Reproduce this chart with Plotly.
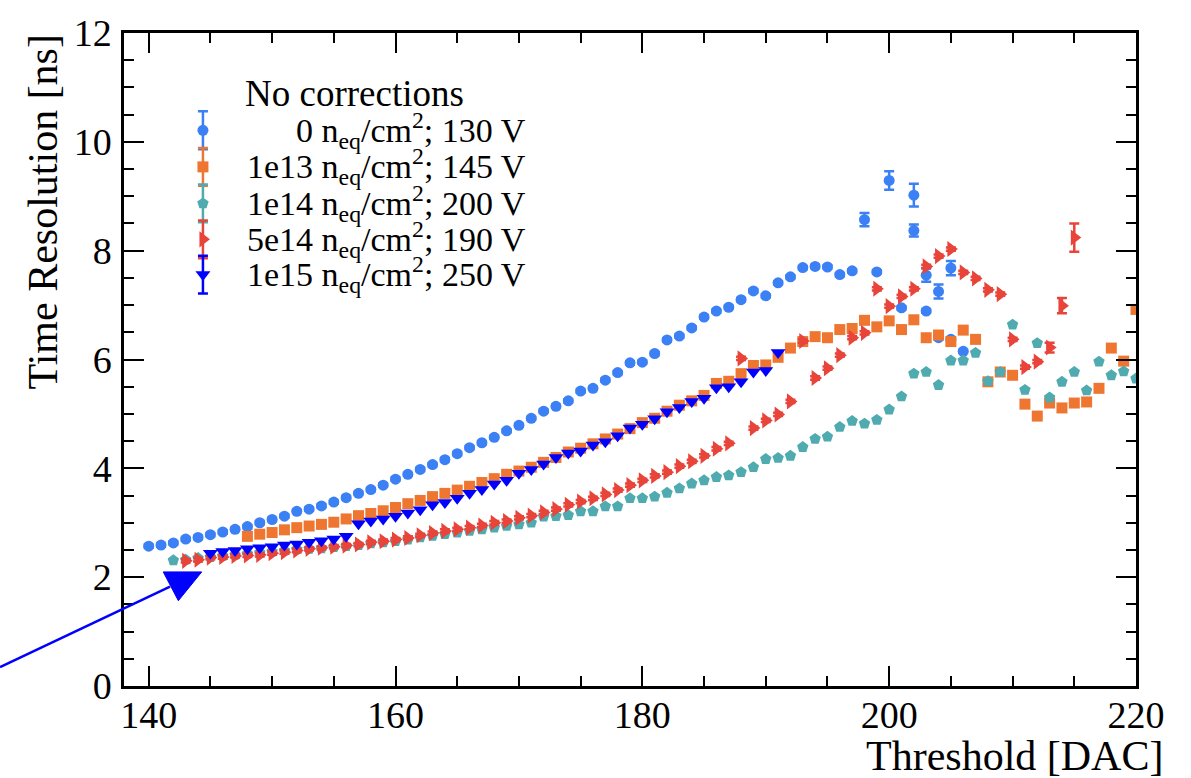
import plotly.graph_objects as go

# ---------------- data ----------------
blue_x = list(range(140, 200)) + [200, 201, 202, 202, 203, 203, 204, 204, 205, 205, 206]
blue_y = [2.57, 2.59, 2.63, 2.70, 2.73, 2.78, 2.83, 2.88, 2.93, 3.00,
          3.06, 3.12, 3.21, 3.25, 3.31, 3.38, 3.46, 3.54, 3.61, 3.69,
          3.80, 3.89, 3.98, 4.07, 4.16, 4.27, 4.38, 4.47, 4.57, 4.69,
          4.79, 4.92, 5.05, 5.14, 5.24, 5.42, 5.47, 5.62, 5.76, 5.94,
          5.95, 6.11, 6.36, 6.43, 6.58, 6.78, 6.89, 6.96, 7.10, 7.26,
          7.17, 7.41, 7.52, 7.69, 7.71, 7.70, 7.56, 7.63, 8.57, 7.61,
          9.29, 6.95, 9.02, 8.37, 7.55, 6.89, 7.25, 6.40, 7.68, 6.37, 6.15]
blue_err = [0.03] * 58 + [0.12, 0.03, 0.17, 0.03, 0.21, 0.11, 0.12, 0.03, 0.13, 0.03, 0.13, 0.03, 0.03]

orange_x = list(range(148, 221))
orange_y = [2.75, 2.79, 2.82, 2.87, 2.91, 2.94, 2.97, 3.01, 3.07, 3.13,
            3.17, 3.22, 3.28, 3.35, 3.41, 3.48, 3.54, 3.60, 3.67, 3.74,
            3.81, 3.89, 3.95, 4.02, 4.11, 4.20, 4.30, 4.37, 4.45, 4.54,
            4.63, 4.73, 4.84, 4.92, 5.05, 5.16, 5.24, 5.34, 5.56, 5.60,
            5.74, 5.89, 5.90, 6.04, 6.21, 6.33, 6.42, 6.40, 6.55, 6.57,
            6.72, 6.60, 6.71, 6.55, 6.73, 6.40, 6.45, 6.33, 6.54, 6.37,
            5.59, 5.77, 5.71, 5.18, 4.96, 5.20, 5.11, 5.20, 5.22, 5.47,
            6.21, 5.97, 6.92]

teal_x = list(range(142, 221))
teal_y = [2.31, 2.32, 2.35, 2.37, 2.39, 2.41, 2.43, 2.45, 2.47, 2.49,
          2.51, 2.52, 2.53, 2.55, 2.57, 2.59, 2.62, 2.64, 2.66, 2.69,
          2.73, 2.76, 2.79, 2.82, 2.85, 2.88, 2.91, 2.94, 2.97, 3.00,
          3.11, 3.12, 3.14, 3.21, 3.21, 3.30, 3.30, 3.45, 3.45, 3.48,
          3.55, 3.63, 3.72, 3.78, 3.84, 3.87, 3.93, 4.02, 4.17, 4.19,
          4.23, 4.39, 4.54, 4.58, 4.76, 4.87, 4.82, 4.89, 5.08, 5.32,
          5.74, 5.77, 5.53, 5.98, 5.98, 6.12, 5.60, 5.77, 6.64, 5.44,
          6.30, 5.30, 5.59, 5.77, 5.43, 5.96, 5.71, 5.78, 5.65]

red_x = list(range(143, 216))
red_y = [2.30, 2.32, 2.36, 2.37, 2.39, 2.40, 2.41, 2.44, 2.46, 2.49,
         2.52, 2.54, 2.56, 2.58, 2.60, 2.64, 2.66, 2.69, 2.72, 2.77,
         2.81, 2.85, 2.88, 2.91, 2.95, 3.00, 3.03, 3.09, 3.13, 3.19,
         3.25, 3.33, 3.39, 3.45, 3.52, 3.60, 3.69, 3.78, 3.86, 3.93,
         4.04, 4.13, 4.23, 4.36, 4.46, 6.02, 4.74, 4.88, 4.99, 5.23,
         6.34, 5.66, 5.84, 6.08, 6.40, 6.49, 7.30, 6.98, 7.16, 7.30,
         7.71, 7.90, 8.03, 7.60, 7.49, 7.28, 7.20, 6.37, 5.86, 5.96,
         6.22, 6.99, 8.24]
red_err = [0.03] * 70 + [0.09, 0.14, 0.26]

dblue_x = list(range(145, 192))
dblue_y = [2.44, 2.47, 2.49, 2.52, 2.54, 2.56, 2.59, 2.61, 2.64, 2.67,
           2.70, 2.75, 2.98, 3.03, 3.07, 3.12, 3.18, 3.24, 3.33, 3.37,
           3.45, 3.54, 3.61, 3.71, 3.78, 3.91, 3.98, 4.08, 4.20, 4.28,
           4.32, 4.43, 4.49, 4.60, 4.74, 4.81, 4.91, 5.04, 5.12, 5.23,
           5.29, 5.48, 5.50, 5.59, 5.77, 5.80, 6.13]

legend_labels = ["0 n<sub>eq</sub>/cm<sup>2</sup>; 130 V",
                 "1e13 n<sub>eq</sub>/cm<sup>2</sup>; 145 V",
                 "1e14 n<sub>eq</sub>/cm<sup>2</sup>; 200 V",
                 "5e14 n<sub>eq</sub>/cm<sup>2</sup>; 190 V",
                 "1e15 n<sub>eq</sub>/cm<sup>2</sup>; 250 V"]
legend_title = "No corrections"

# ---------------- styles ----------------
FONT = "Liberation Serif, Times New Roman, serif"
colors = ["#3b80f4", "#ef7630", "#4fabb0", "#e8443a", "#0000ff"]
symbols = ["circle", "square", "pentagon", "triangle-right", "triangle-down"]
sizes = [11, 11, 12, 14, 13]

series = [(blue_x, blue_y, blue_err), (orange_x, orange_y, None), (teal_x, teal_y, None),
          (red_x, red_y, red_err), (dblue_x, dblue_y, None)]

fig = go.Figure()
for i, (xs, ys, err) in enumerate(series):
    fig.add_trace(go.Scatter(
        x=xs, y=ys, mode="markers", showlegend=False, cliponaxis=True,
        marker=dict(color=colors[i], symbol=symbols[i], size=sizes[i], line=dict(width=0)),
        error_y=dict(type="data", array=err if err is not None else [], visible=err is not None,
                     color=colors[i], thickness=2.5, width=5),
    ))

# legend glyphs on an overlay axis (0..1 in both directions)
leg_gx = 0.078
leg_rows = [0.851, 0.795, 0.739, 0.684, 0.630]
for i in range(5):
    fig.add_trace(go.Scatter(
        x=[leg_gx], y=[leg_rows[i]], xaxis="x2", yaxis="y2", mode="markers",
        showlegend=False, cliponaxis=False,
        marker=dict(color=colors[i], symbol=symbols[i], size=sizes[i], line=dict(width=0)),
        error_y=dict(type="constant", value=0.029, color=colors[i], thickness=2.5, width=5),
    ))

axis_common = dict(
    showgrid=False, zeroline=False, showline=True, linecolor="black", linewidth=2.5,
    mirror="allticks", ticks="inside", ticklen=20, tickwidth=2, tickcolor="black",
    tickfont=dict(family=FONT, size=38, color="black"),
)

fig.update_layout(
    width=1191, height=778,
    margin=dict(l=124, r=55, t=22, b=92),
    paper_bgcolor="white", plot_bgcolor="white",
    xaxis=dict(range=[138, 220], tick0=140, dtick=20, ticklabelstandoff=-6,
               minor=dict(tick0=140, dtick=5, ticklen=10, ticks="inside", tickwidth=2, tickcolor="black"),
               **axis_common),
    yaxis=dict(range=[0, 12], tick0=0, dtick=2, ticklabelstandoff=2,
               minor=dict(tick0=0, dtick=0.5, ticklen=10, ticks="inside", tickwidth=2, tickcolor="black"),
               **axis_common),
    xaxis2=dict(overlaying="x", range=[0, 1], visible=False, anchor="y2"),
    yaxis2=dict(overlaying="y", range=[0, 1], visible=False, anchor="x2"),
)

annotations = [
    dict(text="Time Resolution [ns]", x=-0.081, y=1.0, xref="paper", yref="paper",
         xanchor="center", yanchor="top", textangle=-90, showarrow=False,
         font=dict(family=FONT, size=42, color="black")),
    dict(text="Threshold [DAC]", x=1.0287, y=-0.107, xref="paper", yref="paper",
         xanchor="right", yanchor="middle", showarrow=False,
         font=dict(family=FONT, size=42, color="black")),
    dict(text=legend_title, x=0.1176, y=0.907, xref="paper", yref="paper",
         xanchor="left", yanchor="middle", showarrow=False,
         font=dict(family=FONT, size=37, color="black")),
]
for i, lab in enumerate(legend_labels):
    annotations.append(dict(text=lab, x=0.3992, y=leg_rows[i], xref="paper", yref="paper",
                            xanchor="right", yanchor="middle", showarrow=False,
                            font=dict(family=FONT, size=34, color="black")))
fig.update_layout(annotations=annotations)

# blue pointer arrow (layout decoration)
fig.add_shape(type="line", xref="paper", yref="paper", x0=-0.1225, y0=0.029, x1=0.0455, y1=0.152,
              line=dict(color="#0000ff", width=2.5))
fig.add_shape(type="path", xref="paper", yref="paper",
              path="M 0.0388 0.1747 L 0.0768 0.1747 L 0.0537 0.1306 Z",
              fillcolor="#0000ff", line=dict(color="#0000ff", width=1))

fig.write_html("out.html")
